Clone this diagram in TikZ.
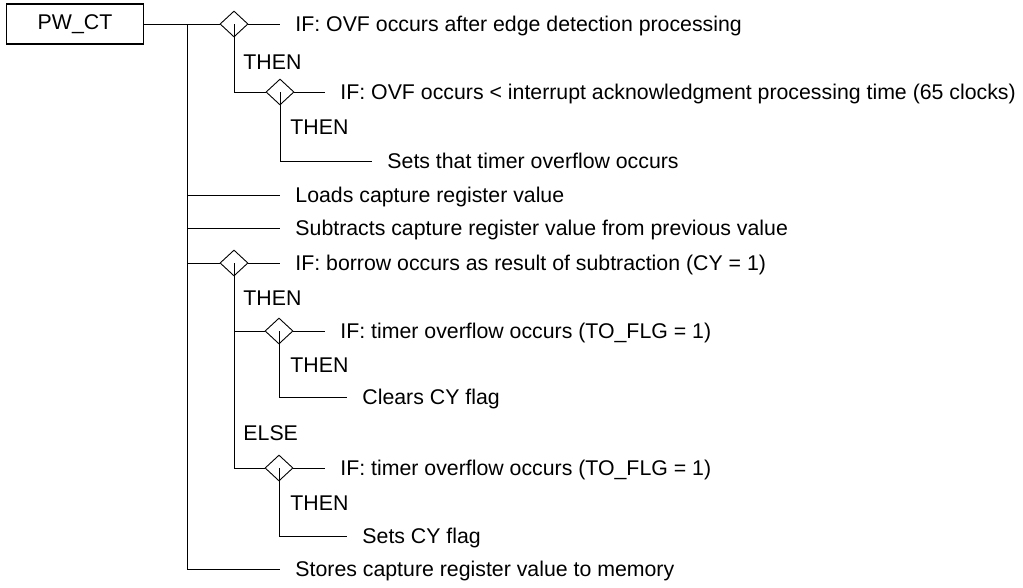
\documentclass[tikz,border=0pt]{standalone}
\usepackage{fontspec}
\setmainfont{Liberation Sans}
\usepackage{tikz}
\usetikzlibrary{shapes.geometric}

\begin{document}
\begin{tikzpicture}[x=1pt, y=-1pt, line width=0.9pt, font=\fontsize{21.3}{25}\selectfont,
    box/.style={draw, rectangle, line width=1.8pt, minimum width=137pt, minimum height=40pt, inner sep=0pt},
    cond/.style={draw, diamond, minimum width=28pt, minimum height=26pt, inner sep=0pt},
    txt/.style={anchor=west, inner xsep=15pt, inner ysep=0pt, text height=15pt, text depth=0pt},
    lbl/.style={anchor=west, inner sep=0pt, text height=15pt, text depth=0pt}]
    \useasboundingbox (0,0) rectangle (1023,587);

    % Top: OVF check
    \node[box] (pwct) at (75,24) {PW\_CT};
    \coordinate (trunk) at (187,24);
    \node[cond] (d1) at (234,24) {};
    \node[txt] (t1) at (280,24) {IF: OVF occurs after edge detection processing};
    \node[lbl] (then1) at (243,62) {THEN};
    \node[cond] (d2) at (280,92) {};
    \node[txt] (t2) at (325,92) {IF: OVF occurs < interrupt acknowledgment processing time (65 clocks)};
    \node[lbl] (then2) at (290,127) {THEN};
    \node[txt] (t3) at (372,161) {Sets that timer overflow occurs};
    \draw (pwct.east) -- (d1.west);
    \draw (d1.east) -- (t1.west);
    \draw (d1.center) |- (d2.west);
    \draw (d2.east) -- (t2.west);
    \draw (d2.center) |- (t3.west);

    % Capture value
    \node[txt] (t4) at (280,195) {Loads capture register value};
    \node[txt] (t5) at (280,228) {Subtracts capture register value from previous value};
    \draw (trunk |- t4.west) -- (t4.west);
    \draw (trunk |- t5.west) -- (t5.west);

    % Borrow check
    \node[cond] (d3) at (234,263) {};
    \node[txt] (t6) at (280,263) {IF: borrow occurs as result of subtraction (CY = 1)};
    \node[lbl] (then3) at (243,298) {THEN};
    \node[cond] (d4) at (279,331) {};
    \node[txt] (t7) at (325,331) {IF: timer overflow occurs (TO\_FLG = 1)};
    \node[lbl] (then4) at (290,365) {THEN};
    \node[txt] (t8) at (347,397) {Clears CY flag};
    \node[lbl] (else1) at (243,433) {ELSE};
    \node[cond] (d5) at (279,468) {};
    \node[txt] (t9) at (325,468) {IF: timer overflow occurs (TO\_FLG = 1)};
    \node[lbl] (then5) at (290,503) {THEN};
    \node[txt] (t10) at (347,536) {Sets CY flag};
    \draw (trunk |- d3.west) -- (d3.west);
    \draw (d3.east) -- (t6.west);
    \draw (d3.center) |- (d5.west);
    \draw (d3.center |- d4.west) -- (d4.west);
    \draw (d4.east) -- (t7.west);
    \draw (d4.center) |- (t8.west);
    \draw (d5.east) -- (t9.west);
    \draw (d5.center) |- (t10.west);

    % Store
    \node[txt] (t11) at (280,569) {Stores capture register value to memory};
    \draw (trunk) |- (t11.west);
\end{tikzpicture}
\end{document}
